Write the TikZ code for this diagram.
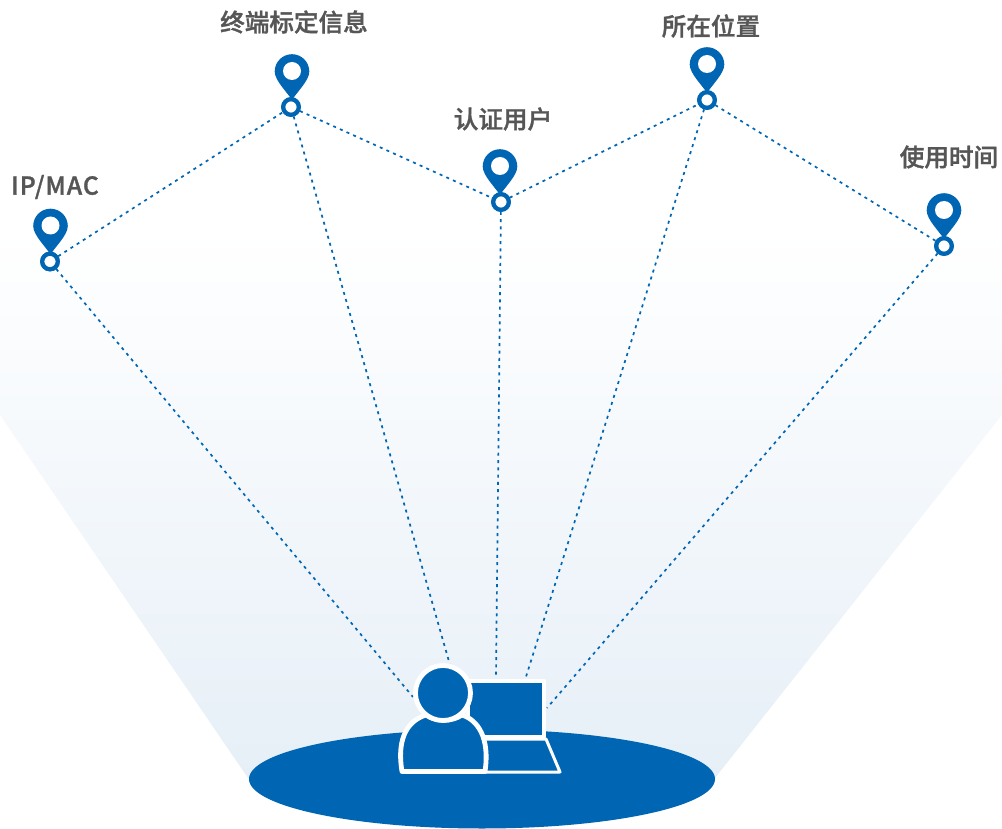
\documentclass[tikz,border=0pt]{standalone}
\usepackage{fontspec}
\usetikzlibrary{calc}
\newfontfamily\cjk[FakeBold=1.3]{Noto Sans CJK SC Medium}
\newfontfamily\cjkwide[FakeBold=1.3,LetterSpace=4]{Noto Sans CJK SC Medium}
\definecolor{brandblue}{HTML}{0066B3}
\definecolor{labelgrey}{HTML}{565656}
\definecolor{glow}{HTML}{E6EFF7}
\tikzset{
  ringnode/.style={circle,draw=brandblue,fill=white,line width=4.2pt,minimum size=15.5pt,inner sep=0pt},
  linkline/.style={draw=brandblue,line width=1.7pt,dash pattern=on 3pt off 4.3pt},
  labeltext/.style={text=labelgrey,inner sep=0pt,font=\cjk\fontsize{24.6}{24.6}\selectfont},
  whiteline/.style={draw=white,line width=4.8pt,line join=round}
}
\newcommand{\mappin}[1]{%
  \fill[brandblue] ($(#1)+(-17.3,-35.5)$)
    arc[start angle=180,end angle=360,radius=17.3]
    .. controls +(0,9) and +(5,-8) .. ($(#1)+(0,-7)$)
    .. controls +(-5,-8) and +(0,9) .. ($(#1)+(-17.3,-35.5)$) -- cycle;
  \fill[white] ($(#1)+(0,-36)$) circle[radius=9];
}
\begin{document}
\begin{tikzpicture}[x=1pt,y=-1pt]
\useasboundingbox (0,0) rectangle (1002,829);
\begin{scope}
  \clip (0,230) -- (1002,230) -- (1002,415) -- (715,778) -- (248,778) -- (0,415) -- cycle;
  \shade[top color=white,bottom color=glow] (0,230) rectangle (1002,778);
\end{scope}
\fill[brandblue] (482,779) ellipse[x radius=233,y radius=49.5];
% rings
\node[ringnode] (r1) at (50,261.5) {};
\node[ringnode] (r2) at (291,107) {};
\node[ringnode] (r3) at (501,202) {};
\node[ringnode] (r4) at (707,100) {};
\node[ringnode] (r5) at (944,246) {};
% laptop ends
\coordinate (e1) at (413,697);
\coordinate (e2) at (450,665);
\coordinate (e3) at (496,677);
\coordinate (e4) at (525,680);
\coordinate (e5) at (547,708);
\draw[linkline] (r1)--(r2);
\draw[linkline] (r2)--(r3);
\draw[linkline] (r3)--(r4);
\draw[linkline] (r4)--(r5);
\draw[linkline] (r1)--(e1);
\draw[linkline] (r2)--(e2);
\draw[linkline] (r3)--(e3);
\draw[linkline] (r4)--(e4);
\draw[linkline] (r5)--(e5);
% pins over the ring tops
\foreach \p in {{50.5,261.5},{292,107},{500,202},{707,100},{944,246}}{
  \mappin{\p}
}
\foreach \p in {{50,261.5},{291,107},{501,202},{707,100},{944,246}}{
  \node[ringnode] at (\p) {};
}
% labels
\node[labeltext,font=\cjkwide\fontsize{24.6}{24.6}\selectfont] (l1) at (55,187) {IP/MAC};
\node[labeltext] (l2) at (294,22) {终端标定信息};
\node[labeltext] (l3) at (503,119) {认证用户};
\node[labeltext] (l4) at (711,26) {所在位置};
\node[labeltext] (l5) at (949,157) {使用时间};
% laptop
\draw[draw=white,line width=3pt,line join=round,fill=brandblue] (546,739) -- (560,772) -- (470,772) -- (470,739) -- cycle;
\draw[whiteline,fill=brandblue] (468,681) -- (544,681) -- (544,737) -- (468,737) -- cycle;
% person
\draw[whiteline,fill=brandblue] (402,771.5) .. controls (396,735) and (410,720) .. (426,715)
  .. controls (436,722) and (452,722) .. (462,715)
  .. controls (478,720) and (490,738) .. (485,771.5) -- cycle;
\draw[whiteline,fill=brandblue] (443,693) circle[radius=27.5];
\end{tikzpicture}
\end{document}
